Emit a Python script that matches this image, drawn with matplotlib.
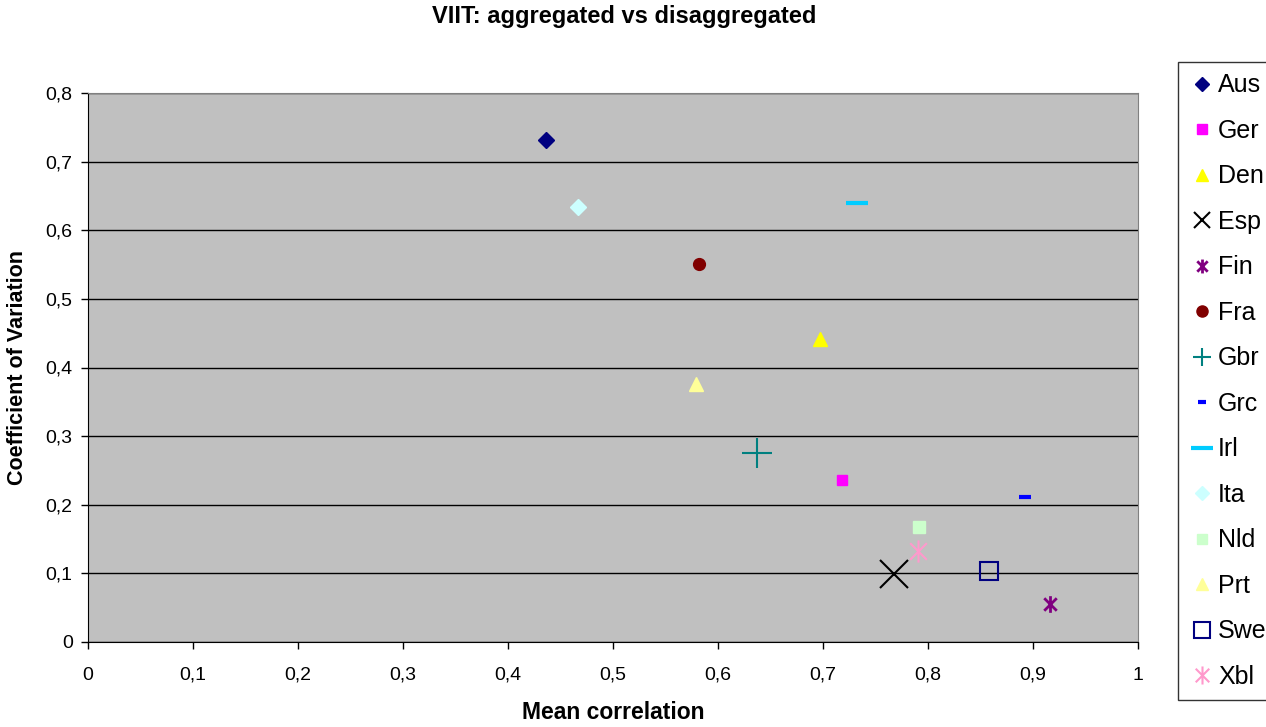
import matplotlib
matplotlib.use("Agg")
import matplotlib.pyplot as plt
from matplotlib.path import Path
from matplotlib.lines import Line2D
from matplotlib.ticker import FixedLocator, FuncFormatter

plt.rcParams['font.family'] = ['Liberation Sans', 'DejaVu Sans']

countries = ["Aus", "Ger", "Den", "Esp", "Fin", "Fra", "Gbr", "Grc", "Irl", "Ita", "Nld", "Prt", "Swe", "Xbl"]
mean_corr = [0.436, 0.718, 0.697, 0.768, 0.916, 0.582, 0.637, 0.892, 0.732, 0.467, 0.791, 0.579, 0.858, 0.790]
coef_var = [0.732, 0.236, 0.442, 0.099, 0.055, 0.551, 0.275, 0.211, 0.640, 0.634, 0.168, 0.376, 0.104, 0.133]

x_ticks = [0, 0.1, 0.2, 0.3, 0.4, 0.5, 0.6, 0.7, 0.8, 0.9, 1.0]
y_ticks = [0, 0.1, 0.2, 0.3, 0.4, 0.5, 0.6, 0.7, 0.8]

star = Path([(0, -1), (0, 1), (-0.75, -0.75), (0.75, 0.75), (-0.75, 0.75), (0.75, -0.75)],
            [Path.MOVETO, Path.LINETO, Path.MOVETO, Path.LINETO, Path.MOVETO, Path.LINETO])

styles = {
    "Aus": dict(marker='D', ms=8, mfc='#000080', mec='#000080'),
    "Ger": dict(marker='s', ms=7.5, mfc='#FF00FF', mec='#FF00FF'),
    "Den": dict(marker='^', ms=10, mfc='#FFFF00', mec='#FFFF00'),
    "Esp": dict(marker='x', ms=20, mfc='none', mec='black', mew=1.5),
    "Fin": dict(marker=star, ms=12, mfc='none', mec='#800080', mew=2),
    "Fra": dict(marker='o', ms=8.5, mfc='#800000', mec='#800000'),
    "Gbr": dict(marker='+', ms=22, mfc='none', mec='#008080', mew=1.5),
    "Grc": dict(marker='_', ms=9, mec='#0000FF', mew=3),
    "Irl": dict(marker='_', ms=16, mec='#00CCFF', mew=3),
    "Ita": dict(marker='D', ms=8, mfc='#CCFFFF', mec='#CCFFFF'),
    "Nld": dict(marker='s', ms=8, mfc='#CCFFCC', mec='#CCFFCC'),
    "Prt": dict(marker='^', ms=10, mfc='#FFFF99', mec='#FFFF99'),
    "Swe": dict(marker='s', ms=13, mfc='none', mec='#000080', mew=1.5),
    "Xbl": dict(marker=star, ms=16, mfc='none', mec='#FF99CC', mew=1.5),
}
legend_ms = {"Aus": 7, "Ger": 7, "Den": 9, "Esp": 12, "Fin": 10, "Fra": 8, "Gbr": 13,
             "Grc": 6, "Irl": 16, "Ita": 7, "Nld": 7, "Prt": 9, "Swe": 11, "Xbl": 13}

fig = plt.figure(figsize=(12.66, 7.27), dpi=100)
ax = fig.add_axes([88/1266, 1-642/727, (1138-88)/1266, (642-93)/727])
ax.set_facecolor('#C0C0C0')

for c, x, y in zip(countries, mean_corr, coef_var):
    ax.plot([x], [y], linestyle='none', label=c, **styles[c])

ax.set_xlim(0, 1)
ax.set_ylim(0, 0.8)
fmt = FuncFormatter(lambda v, p: ('%g' % round(v, 2)).replace('.', ','))
ax.xaxis.set_major_locator(FixedLocator(x_ticks))
ax.yaxis.set_major_locator(FixedLocator(y_ticks))
ax.xaxis.set_major_formatter(fmt)
ax.yaxis.set_major_formatter(fmt)
ax.yaxis.grid(True, color='black', linewidth=1)
ax.set_axisbelow(True)
ax.tick_params(axis='both', direction='out', length=5, width=1, labelsize=14, colors='black')
ax.tick_params(axis='x', pad=13)
ax.tick_params(axis='y', pad=6)
for s in ['left', 'bottom']:
    ax.spines[s].set_color('black')
for s in ['top', 'right']:
    ax.spines[s].set_color('#808080')

ax.set_xlabel('Mean correlation', fontsize=16.5, fontweight='bold', labelpad=12)
ax.set_ylabel('Coefficient of Variation', fontsize=15.5, fontweight='bold', labelpad=13)
fig.text(624/1266, 1-17/727, 'VIIT: aggregated vs disaggregated', ha='center', va='center',
         fontsize=17, fontweight='bold')

handles = []
for c in countries:
    st = dict(styles[c])
    st['ms'] = legend_ms[c]
    handles.append(Line2D([], [], linestyle='none', **st))
leg = fig.legend(handles, countries, loc='upper left', bbox_to_anchor=(1178/1266, 1-62/727),
                 frameon=True, fancybox=False, edgecolor='black', facecolor='white',
                 fontsize=18, labelspacing=0.86, handletextpad=0.15, handlelength=1.0,
                 borderpad=0.45, borderaxespad=0)
leg.get_frame().set_linewidth(1)

fig.savefig('out.png', dpi=100)
